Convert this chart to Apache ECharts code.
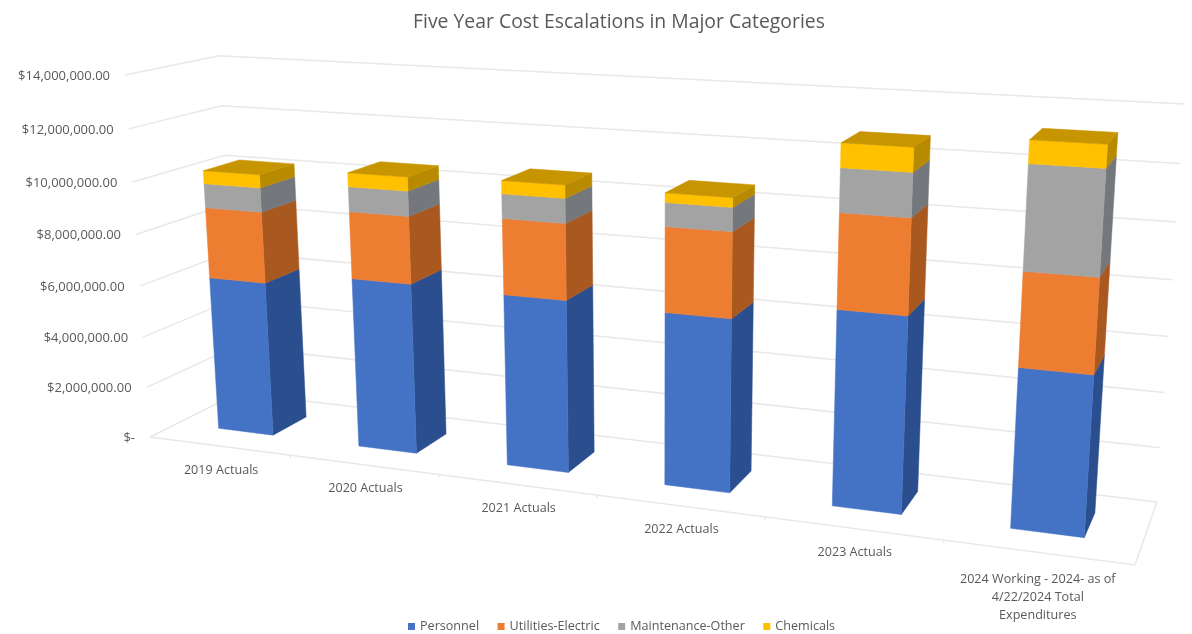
<!DOCTYPE html>
<html>
<head>
<meta charset="utf-8">
<title>Five Year Cost Escalations in Major Categories</title>
<script src="https://cdn.jsdelivr.net/npm/echarts@6/dist/echarts.min.js"></script>
<style>
  html, body { margin: 0; padding: 0; background: #fff; }
  #chart { width: 1192px; height: 634px; }
</style>
</head>
<body>
<div id="chart"></div>
<script>
const categories = ['2019 Actuals', '2020 Actuals', '2021 Actuals', '2022 Actuals', '2023 Actuals',
  '2024 Working - 2024- as of\n4/22/2024 Total\nExpenditures'];
const personnel = [6060000, 6550000, 6480000, 6380000, 7050000, 5640000];
const utilitiesElectric = [2740000, 2540000, 2810000, 3080000, 3350000, 3260000];
const maintenanceOther = [930000, 940000, 900000, 850000, 1520000, 3550000];
const chemicals = [500000, 520000, 480000, 340000, 840000, 770000];
const tickValues = [0, 2000000, 4000000, 6000000, 8000000, 10000000, 12000000, 14000000];
const tickLabels = ['$-', '$2,000,000.00', '$4,000,000.00', '$6,000,000.00', '$8,000,000.00',
  '$10,000,000.00', '$12,000,000.00', '$14,000,000.00'];

const layers = [
  { name: 'Personnel', values: personnel, front: '#4472C4', side: '#2B4F8E' },
  { name: 'Utilities-Electric', values: utilitiesElectric, front: '#ED7D31', side: '#A9581F' },
  { name: 'Maintenance-Other', values: maintenanceOther, front: '#A3A3A3', side: '#74777B' },
  { name: 'Chemicals', values: chemicals, front: '#FFC000', side: '#B88A00', top: '#C69500' }
];

// Perspective camera: screen position of the unit box (u along categories, v up, d into the page).
const origin = [150, 437];
const uEnd = [1135, 565];
const vEnd = [125, 75];
const dEnd = [238, 393];
const wu = -0.17, wv = -0.047, wd = 0.076;

function project(u, v, d) {
  const w = 1 + wu * u + wv * v + wd * d;
  const axis = (k) =>
    origin[k]
    + (uEnd[k] * (1 + wu) - origin[k]) * u
    + (vEnd[k] * (1 + wv) - origin[k]) * v
    + (dEnd[k] * (1 + wd) - origin[k]) * d;
  return [axis(0) / w, axis(1) / w];
}

// Convert the library's pixel scale on the hidden grid to unit-box coordinates.
function unitCoords(params, api, category, value) {
  const c = api.coord([category, value]);
  const g = params.coordSys;
  return [(c[0] - g.x) / g.width, (g.y + g.height - c[1]) / g.height];
}

const barShare = 0.395;
const depthNear = 0.3, depthFar = 0.7;

function poly(points, fill) {
  return { type: 'polygon', shape: { points }, style: { fill, stroke: fill, lineWidth: 0.5 }, silent: true };
}

function barItem(layer) {
  return function (params, api) {
    const cat = api.value(0);
    const [uc, v0] = unitCoords(params, api, cat, api.value(1));
    const [, v1] = unitCoords(params, api, cat, api.value(2));
    const half = (api.size([1, 0])[0] / params.coordSys.width) * barShare / 2;
    const ul = uc - half, ur = uc + half;
    const children = [
      poly([project(ur, v0, depthNear), project(ur, v0, depthFar), project(ur, v1, depthFar), project(ur, v1, depthNear)], layer.side),
      poly([project(ul, v0, depthNear), project(ur, v0, depthNear), project(ur, v1, depthNear), project(ul, v1, depthNear)], layer.front)
    ];
    if (layer.top) {
      children.push(poly([project(ul, v1, depthNear), project(ur, v1, depthNear), project(ur, v1, depthFar), project(ul, v1, depthFar)], layer.top));
    }
    return { type: 'group', children };
  };
}

const lineStyle = { stroke: '#E8E8E8', lineWidth: 1.5, fill: null };

function line(points) {
  return { type: 'polyline', shape: { points }, style: lineStyle, silent: true };
}

// Side wall and back wall rules, one per tick.
function gridItem(params, api) {
  const [, v] = unitCoords(params, api, 0, api.value(0));
  return line([project(0, v, 0), project(0, v, 1), project(1, v, 1)]);
}

// Floor outline and the category tick marks along its front edge.
function floorItem(params, api) {
  const children = [line([project(0, 0, 0), project(1, 0, 0), project(1, 0, 1)])];
  categories.forEach((_, i) => {
    if (i === 0) return;
    const p = project(i / categories.length, 0, 0);
    children.push(line([p, [p[0], p[1] + 3]]));
  });
  return { type: 'group', children };
}

function valueLabelItem(params, api) {
  const i = params.dataIndex;
  const [, v] = unitCoords(params, api, 0, api.value(0));
  const p = project(0, v, 0);
  return {
    type: 'text', silent: true,
    style: { text: tickLabels[i], x: p[0] - 15, y: p[1] + 1, align: 'right', verticalAlign: 'middle',
      fill: '#595959', font: '13px "Open Sans"' }
  };
}

function categoryLabelItem(params, api) {
  const i = api.value(0);
  const [u] = unitCoords(params, api, i, 0);
  const p = project(u, 0, 0);
  const wrapped = categories[i].indexOf('\n') >= 0;
  return {
    type: 'text', silent: true,
    style: { text: categories[i], x: p[0] + (wrapped ? 0 : 2), y: p[1] + (wrapped ? 18 : 15), align: 'center', verticalAlign: 'top',
      fill: '#595959', font: '12.6px "Open Sans"', lineHeight: 18 }
  };
}

const stacked = [];
const running = categories.map(() => 0);
layers.forEach((layer) => {
  stacked.push({
    name: layer.name,
    type: 'custom',
    renderItem: barItem(layer),
    clip: false,
    z: 5,
    itemStyle: { color: layer.front },
    encode: { x: 0, y: [1, 2] },
    data: layer.values.map((val, i) => {
      const row = [i, running[i], running[i] + val];
      running[i] += val;
      return row;
    })
  });
});

const chart = echarts.init(document.getElementById('chart'), null, { renderer: 'canvas' });
chart.setOption({
  animation: false,
  backgroundColor: '#ffffff',
  title: {
    text: 'Five Year Cost Escalations in Major Categories',
    left: 408, top: 8,
    textStyle: { fontFamily: 'Open Sans', fontWeight: 'normal', fontSize: 19.4, color: '#595959' }
  },
  legend: {
    data: layers.map((l) => l.name),
    left: 403, top: 615,
    icon: 'rect', itemWidth: 7, itemHeight: 7, itemGap: 18.5,
    textStyle: { fontFamily: 'Open Sans', fontSize: 12.6, color: '#595959' }
  },
  grid: { left: 100, right: 100, top: 50, bottom: 50 },
  xAxis: { type: 'category', data: categories, show: false },
  yAxis: { type: 'value', min: 0, max: 14000000, interval: 2000000, show: false },
  series: [
    { type: 'custom', silent: true, renderItem: gridItem, clip: false, z: 1, encode: { y: 0 },
      data: tickValues.map((t) => [t]) },
    { type: 'custom', silent: true, renderItem: floorItem, clip: false, z: 1, data: [[0]] },
    { type: 'custom', silent: true, renderItem: valueLabelItem, clip: false, z: 2, encode: { y: 0 },
      data: tickValues.map((t) => [t]) },
    { type: 'custom', silent: true, renderItem: categoryLabelItem, clip: false, z: 2, encode: { x: 0 },
      data: categories.map((_, i) => [i]) }
  ].concat(stacked)
});
</script>
</body>
</html>
